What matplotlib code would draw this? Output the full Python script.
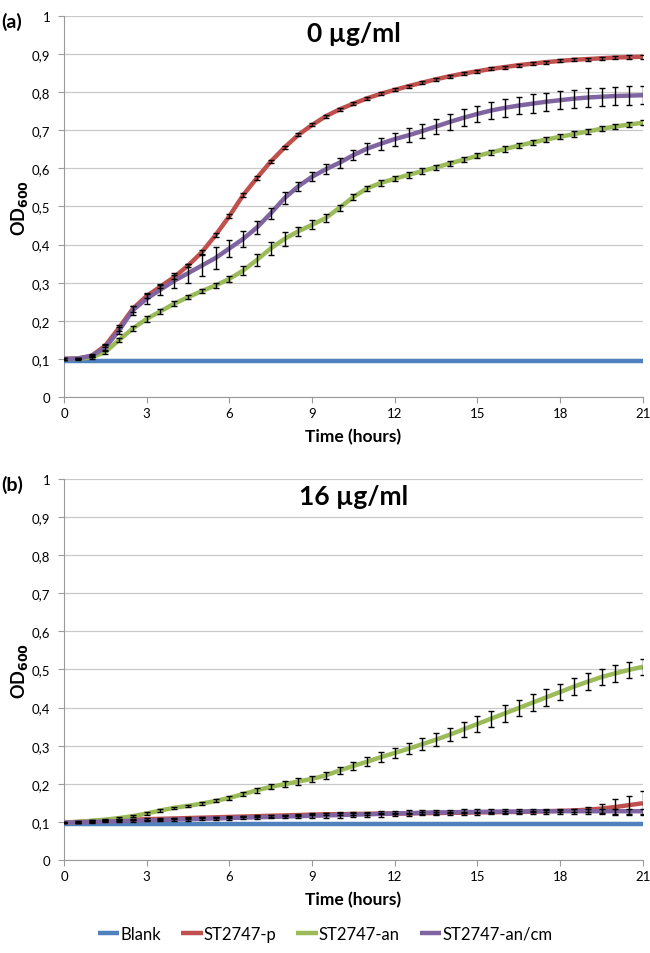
import numpy as np
import matplotlib
matplotlib.use("Agg")
import matplotlib.pyplot as plt
from matplotlib.ticker import FuncFormatter, MultipleLocator

plt.rcParams['font.family'] = ['Lato', 'DejaVu Sans']

# sampling times (hours), every 30 min
time_h = np.arange(0, 21.01, 0.5)

series_names = ['Blank', 'ST2747-p', 'ST2747-an', 'ST2747-an/cm']
colors = ['#4F81BD', '#C0504D', '#9BBB59', '#8064A2']

# ---- panel (a): 0 ug/ml ----
blank_a = [0.095] * 43
red_a = [0.100, 0.101, 0.108, 0.135, 0.182, 0.232, 0.265, 0.29, 0.315, 0.345, 0.38,
         0.425, 0.475, 0.53, 0.575, 0.618, 0.655, 0.688, 0.714, 0.737, 0.755, 0.77,
         0.784, 0.796, 0.806, 0.816, 0.825, 0.834, 0.842, 0.849, 0.855, 0.861,
         0.866, 0.871, 0.875, 0.879, 0.882, 0.885, 0.887, 0.889, 0.891, 0.892, 0.893]
red_a_err = [0.002, 0.002, 0.003, 0.005, 0.008, 0.008, 0.006, 0.005, 0.005, 0.005, 0.005,
             0.005, 0.005, 0.005, 0.005, 0.004, 0.004, 0.004, 0.004, 0.004, 0.004, 0.004,
             0.004, 0.004, 0.004, 0.004, 0.004, 0.004, 0.004, 0.004, 0.004, 0.004,
             0.004, 0.004, 0.004, 0.004, 0.004, 0.004, 0.004, 0.004, 0.005, 0.005, 0.005]
green_a = [0.100, 0.100, 0.104, 0.118, 0.15, 0.18, 0.205, 0.225, 0.245, 0.262, 0.278,
           0.293, 0.31, 0.332, 0.36, 0.39, 0.415, 0.435, 0.452, 0.47, 0.497, 0.525,
           0.548, 0.562, 0.573, 0.583, 0.593, 0.603, 0.613, 0.623, 0.633, 0.642,
           0.651, 0.66, 0.668, 0.676, 0.683, 0.69, 0.697, 0.704, 0.71, 0.715, 0.72]
green_a_err = [0.002, 0.002, 0.003, 0.004, 0.005, 0.006, 0.007, 0.006, 0.006, 0.006, 0.006,
               0.007, 0.008, 0.012, 0.016, 0.018, 0.018, 0.012, 0.012, 0.01, 0.008, 0.008,
               0.007, 0.007, 0.007, 0.007, 0.007, 0.007, 0.007, 0.007, 0.007, 0.007,
               0.007, 0.007, 0.007, 0.007, 0.007, 0.007, 0.007, 0.007, 0.007, 0.007, 0.007]
purple_a = [0.100, 0.101, 0.108, 0.13, 0.175, 0.228, 0.258, 0.282, 0.305, 0.325, 0.345,
            0.365, 0.39, 0.415, 0.445, 0.482, 0.522, 0.553, 0.578, 0.598, 0.615, 0.635,
            0.652, 0.665, 0.677, 0.687, 0.698, 0.71, 0.722, 0.733, 0.743, 0.752,
            0.759, 0.765, 0.77, 0.775, 0.779, 0.783, 0.786, 0.788, 0.79, 0.791, 0.792]
purple_a_err = [0.002, 0.002, 0.004, 0.006, 0.01, 0.012, 0.015, 0.015, 0.02, 0.025, 0.028,
                0.03, 0.022, 0.02, 0.018, 0.015, 0.015, 0.012, 0.012, 0.013, 0.013, 0.014,
                0.015, 0.016, 0.017, 0.018, 0.019, 0.02, 0.021, 0.022, 0.022, 0.023,
                0.023, 0.023, 0.024, 0.024, 0.024, 0.024, 0.024, 0.024, 0.024, 0.024, 0.024]

# ---- panel (b): 16 ug/ml ----
blank_b = [0.094] * 43
red_b = [0.098, 0.10, 0.102, 0.104, 0.105, 0.106, 0.107, 0.108, 0.109, 0.11, 0.111,
         0.112, 0.113, 0.114, 0.115, 0.116, 0.117, 0.118, 0.119, 0.12, 0.12, 0.121,
         0.121, 0.122, 0.122, 0.122, 0.123, 0.123, 0.124, 0.124, 0.125, 0.125,
         0.126, 0.126, 0.127, 0.128, 0.129, 0.13, 0.132, 0.135, 0.139, 0.144, 0.149]
red_b_err = [0.002] * 36 + [0.003, 0.004, 0.006, 0.012, 0.02, 0.025, 0.032]
green_b = [0.098, 0.10, 0.103, 0.106, 0.11, 0.115, 0.122, 0.13, 0.137, 0.142, 0.148,
           0.155, 0.163, 0.173, 0.183, 0.192, 0.199, 0.206, 0.213, 0.222, 0.235, 0.247,
           0.258, 0.27, 0.281, 0.292, 0.304, 0.316, 0.329, 0.343, 0.357, 0.371,
           0.385, 0.399, 0.413, 0.427, 0.441, 0.455, 0.468, 0.48, 0.49, 0.499, 0.507]
green_b_err = [0.002, 0.002, 0.002, 0.002, 0.002, 0.002, 0.003, 0.003, 0.003, 0.003, 0.004,
               0.004, 0.005, 0.006, 0.006, 0.007, 0.007, 0.008, 0.008, 0.009, 0.01, 0.011,
               0.012, 0.013, 0.014, 0.015, 0.016, 0.017, 0.018, 0.019, 0.02, 0.021,
               0.022, 0.022, 0.022, 0.022, 0.022, 0.022, 0.022, 0.022, 0.022, 0.021, 0.021]
purple_b = [0.098, 0.099, 0.10, 0.101, 0.102, 0.103, 0.104, 0.105, 0.106, 0.107, 0.108,
            0.109, 0.11, 0.111, 0.112, 0.113, 0.114, 0.115, 0.116, 0.117, 0.118, 0.119,
            0.12, 0.121, 0.122, 0.123, 0.124, 0.125, 0.125, 0.126, 0.126, 0.127,
            0.127, 0.127, 0.128, 0.128, 0.128, 0.128, 0.128, 0.128, 0.128, 0.128, 0.128]
purple_b_err = [0.002] * 8 + [0.004] * 10 + [0.007] * 25

panels = [
    ('(a)', '0 µg/ml', [blank_a, red_a, green_a, purple_a],
     [None, red_a_err, green_a_err, purple_a_err]),
    ('(b)', '16 µg/ml', [blank_b, red_b, green_b, purple_b],
     [None, red_b_err, green_b_err, purple_b_err]),
]

fig = plt.figure(figsize=(6.5, 9.54), dpi=100)
axes_pos = [[0.0985, 0.5828, 0.8905, 0.3994],
            [0.0985, 0.0975, 0.8905, 0.3994]]

comma = FuncFormatter(lambda v, p: ('%g' % round(v, 2)).replace('.', ','))

for pos, (tag, title, ys, errs) in zip(axes_pos, panels):
    ax = fig.add_axes(pos)
    for y, e, c, name in zip(ys, errs, colors, series_names):
        ax.plot(time_h, y, color=c, lw=3.2, label=name, zorder=3,
                solid_capstyle='butt')
        if e is not None:
            ax.errorbar(time_h, y, yerr=e, fmt='none', ecolor='black',
                        elinewidth=1.0, capsize=2, capthick=1.0, zorder=4)
    ax.set_xlim(0, 21)
    ax.set_ylim(0, 1)
    ax.xaxis.set_major_locator(MultipleLocator(3))
    ax.yaxis.set_major_locator(MultipleLocator(0.1))
    ax.yaxis.set_major_formatter(comma)
    ax.grid(axis='y', color='#c8c8c8', lw=0.9)
    ax.set_axisbelow(True)
    for s in ['top', 'right']:
        ax.spines[s].set_visible(False)
    for s in ['left', 'bottom']:
        ax.spines[s].set_color('#9a9a9a')
    ax.tick_params(axis='both', colors='#9a9a9a', labelcolor='black',
                   labelsize=9.5, length=4)
    ax.tick_params(axis='y', pad=6)
    ax.set_xlabel('Time (hours)', fontsize=12.5, fontweight='bold', labelpad=6)
    ax.set_ylabel('OD$_{\\mathbf{600}}$', fontsize=13, fontweight='bold', labelpad=1)
    ax.text(0.5, 0.988, title, transform=ax.transAxes, ha='center', va='top',
            fontsize=19, fontweight='bold')
    fig.text(0.002, pos[1] + pos[3] + 0.004, tag, ha='left', va='top',
             fontsize=14, fontweight='bold')

handles, labels = ax.get_legend_handles_labels()
fig.legend(handles, labels, loc='center', bbox_to_anchor=(0.5, 0.02), ncol=4,
           frameon=False, fontsize=12, handlelength=1.3, handletextpad=0.05,
           columnspacing=1.2)

fig.savefig('out.png', dpi=100)
